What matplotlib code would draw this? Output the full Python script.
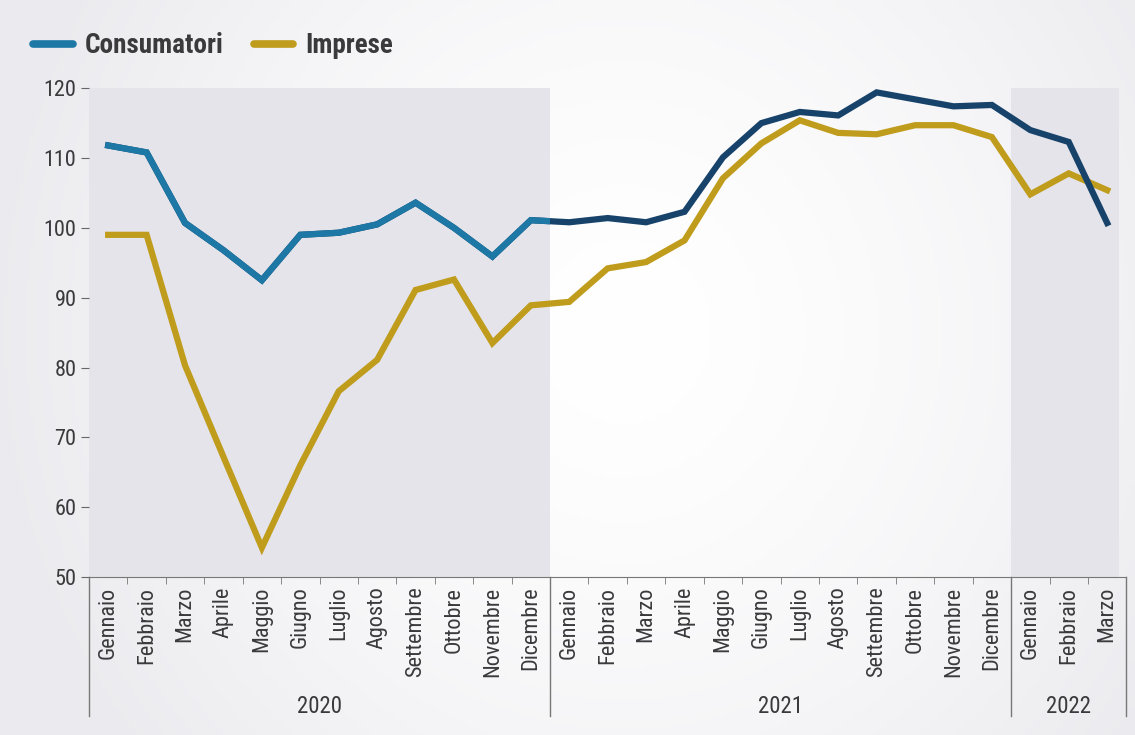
import numpy as np
import matplotlib.pyplot as plt
from matplotlib.lines import Line2D
import matplotlib.transforms as mtransforms

plt.rcParams['font.family'] = ['Roboto Condensed', 'IBM Plex Sans Condensed', 'DejaVu Sans']

mesi = ['Gennaio', 'Febbraio', 'Marzo', 'Aprile', 'Maggio', 'Giugno', 'Luglio',
        'Agosto', 'Settembre', 'Ottobre', 'Novembre', 'Dicembre']
anni = ['2020', '2021', '2022']
mesi_per_anno = [12, 12, 3]
etichette = mesi + mesi + mesi[:3]

consumatori = [111.8, 110.8, 100.7, 96.8, 92.5, 99.0, 99.3, 100.5, 103.6, 100.0, 95.9, 101.1,
               100.8, 101.4, 100.8, 102.3, 110.1, 115.0, 116.6, 116.1, 119.4, 118.4, 117.4, 117.6,
               114.0, 112.3, 100.7]
imprese = [99.0, 99.0, 80.3, 67.2, 54.2, 66.0, 76.6, 81.1, 91.1, 92.6, 83.5, 88.9,
           89.4, 94.2, 95.1, 98.2, 107.1, 112.1, 115.4, 113.6, 113.4, 114.7, 114.7, 113.0,
           104.8, 107.8, 105.4]

col_blu = '#1d78a6'
col_navy = '#17426a'
col_oro = '#c09c1c'
col_testo = '#3a3a3c'

fig = plt.figure(figsize=(11.35, 7.35), dpi=100)

# sfondo sfumato
bg = fig.add_axes([0, 0, 1, 1], zorder=-10)
gx, gy = np.meshgrid(np.linspace(0, 1, 300), np.linspace(0, 1, 200))
d = np.sqrt(((gx - 0.55) / 0.55) ** 2 + ((gy - 0.45) / 0.9) ** 2)
d = np.clip(d, 0, 1)
c0 = np.array([1.0, 1.0, 1.0])
c1 = np.array([0.925, 0.925, 0.94])
img = c0 + (c1 - c0) * d[..., None] ** 1.5
bg.imshow(img, aspect='auto', extent=[0, 1, 0, 1])
bg.axis('off')

ax = fig.add_axes([0.0784, 0.215, 0.914, 0.665])
ax.patch.set_alpha(0)
x = np.arange(len(etichette))

span20 = ax.axvspan(-0.5, 11.5, color='#e4e4ea', zorder=0, lw=0)
ax.axvspan(23.5, 26.3, color='#e4e4ea', zorder=0, lw=0)

ax.plot(x, imprese, color=col_oro, lw=4.5, zorder=3, solid_joinstyle='miter')
ax.plot(x, consumatori, color=col_navy, lw=4.5, zorder=4, solid_joinstyle='miter')
blu, = ax.plot(x, consumatori, color=col_blu, lw=4.5, zorder=5, solid_joinstyle='miter')
blu.set_clip_path(span20)

ax.set_xlim(-0.5, 26.5)
ax.set_ylim(50, 120)
ax.set_yticks(np.arange(50, 121, 10))
ax.tick_params(axis='y', length=6, color='#666666', labelsize=16, labelcolor=col_testo, pad=3)
for s in ['top', 'right', 'left']:
    ax.spines[s].set_visible(False)
ax.spines['bottom'].set_color('#777777')

ax.set_xticks(x)
ax.set_xticklabels(etichette, rotation=90, fontsize=16, color=col_testo, va='top')
ax.tick_params(axis='x', length=0, pad=7)
ax.set_xticks(np.arange(-0.5, 27, 1), minor=True)
ax.tick_params(axis='x', which='minor', length=5, color='#777777')

trans = mtransforms.blended_transform_factory(ax.transData, ax.transAxes)
confini = np.cumsum([0] + mesi_per_anno) - 0.5
for b in confini:
    ax.plot([b, b], [0, -0.285], transform=trans, color='#777777', lw=1, clip_on=False)
for i, a in enumerate(anni):
    centro = (confini[i] + confini[i + 1]) / 2
    ax.text(centro, -0.265, a, transform=trans, ha='center', va='center',
            fontsize=16.5, color=col_testo)

handles = [Line2D([], [], color=col_blu, lw=5.5, solid_capstyle='round'),
           Line2D([], [], color=col_oro, lw=5.5, solid_capstyle='round')]
fig.legend(handles, ['Consumatori', 'Imprese'], loc='center left',
           bbox_to_anchor=(0.008, 0.938), ncol=2, frameon=False, handlelength=1.45,
           handletextpad=0.45, columnspacing=1.1,
           prop={'size': 19.5, 'weight': 'bold'}, labelcolor=col_testo)

fig.savefig('out.png', dpi=100)
